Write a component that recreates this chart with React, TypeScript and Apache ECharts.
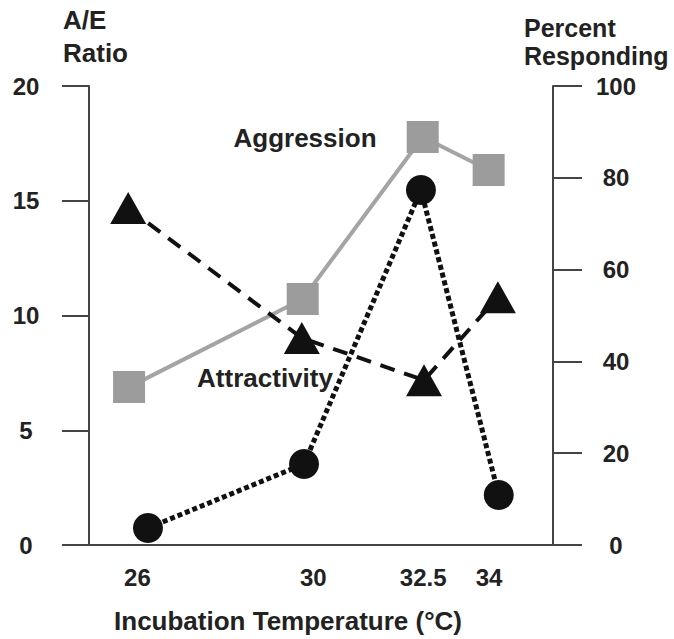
import React, { useEffect, useRef } from "react";
import * as echarts from "echarts";

// Temperatures shown on the x axis (°C)
const tempTicks = [26, 30, 32.5, 34];

// Aggression (% responding, right axis) – grey squares, solid line
const aggressionX = [25.81, 29.76, 32.49, 33.99];
const aggressionY = [34.4, 53.6, 88.9, 81.7];

// Attractivity (% responding, right axis) – black triangles, dashed line
const attractivityX = [25.79, 29.74, 32.52, 34.2];
const attractivityY = [73.4, 45.1, 35.9, 54.0];

// A/E ratio (left axis) – black circles, dotted line
const ratioX = [26.24, 29.79, 32.45, 34.22];
const ratioY = [0.74, 3.53, 15.47, 2.18];

const leftTicks = { min: 0, max: 20, interval: 5 };
const rightTicks = { min: 0, max: 100, interval: 20 };

const FONT = "'Liberation Sans', Arial, sans-serif";
const INK = "#222";
const AXIS = "#444";

function pairs(xs: number[], ys: number[]) {
  return xs.map((x, i) => [x, ys[i]]);
}

export default function App() {
  const ref = useRef<HTMLDivElement>(null);
  useEffect(() => {
    document.body.style.margin = "0";
    if (!ref.current) return;
    const chart = echarts.init(ref.current, undefined, { renderer: "svg" });
    const numLabel = {
      fontSize: 24,
      fontWeight: "bold" as const,
      fontFamily: FONT,
      color: INK,
    };
    chart.setOption({
      animation: false,
      backgroundColor: "#fff",
      grid: {
        left: 64,
        right: 97,
        top: 86,
        bottom: 94,
        containLabel: false,
        outerBoundsMode: "none",
      },
      xAxis: {
        type: "value",
        min: 24.33,
        max: 36,
        axisLine: { onZero: false, lineStyle: { color: AXIS, width: 2 } },
        axisTick: { show: false },
        splitLine: { show: false },
        axisLabel: {
          ...numLabel,
          margin: 20,
          customValues: tempTicks,
          formatter: (v: number) => String(v),
        },
      },
      yAxis: [
        {
          type: "value",
          position: "left",
          offset: -25,
          ...leftTicks,
          axisLine: { show: true, lineStyle: { color: AXIS, width: 2 } },
          axisTick: { show: true, length: 27, lineStyle: { color: AXIS, width: 2 } },
          splitLine: { show: false },
          axisLabel: { ...numLabel, align: "center", margin: 63 },
        },
        {
          type: "value",
          position: "right",
          offset: -24,
          ...rightTicks,
          axisLine: { show: true, lineStyle: { color: AXIS, width: 2 } },
          axisTick: { show: true, length: 29, lineStyle: { color: AXIS, width: 2 } },
          splitLine: { show: false },
          axisLabel: { ...numLabel, align: "center", margin: 63 },
        },
      ],
      series: [
        {
          name: "Aggression",
          type: "line",
          yAxisIndex: 1,
          data: pairs(aggressionX, aggressionY),
          symbol: "rect",
          symbolSize: 32,
          itemStyle: { color: "#9c9c9c" },
          lineStyle: { color: "#a4a4a4", width: 4 },
          z: 2,
        },
        {
          name: "Attractivity",
          type: "line",
          yAxisIndex: 1,
          data: pairs(attractivityX, attractivityY),
          symbol: "triangle",
          symbolSize: [36, 32],
          itemStyle: { color: "#111" },
          lineStyle: { color: "#111", width: 4, type: [15, 10] },
          z: 3,
        },
        {
          name: "A/E Ratio",
          type: "line",
          yAxisIndex: 0,
          data: pairs(ratioX, ratioY),
          symbol: "circle",
          symbolSize: 30,
          itemStyle: { color: "#111" },
          lineStyle: { color: "#111", width: 5, type: [5, 3] },
          z: 4,
        },
      ],
      graphic: [
        {
          type: "text",
          x: 63,
          y: 3,
          style: {
            text: "A/E\nRatio",
            font: `bold 26px ${FONT}`,
            fill: INK,
            lineHeight: 33,
            textAlign: "left",
            textVerticalAlign: "top",
          },
        },
        {
          type: "text",
          x: 524,
          y: 14,
          style: {
            text: "Percent\nResponding",
            font: `bold 25px ${FONT}`,
            fill: INK,
            lineHeight: 28,
            textAlign: "left",
            textVerticalAlign: "top",
          },
        },
        {
          type: "text",
          x: 305,
          y: 138,
          z: 10,
          style: {
            text: "Aggression",
            font: `bold 26px ${FONT}`,
            fill: INK,
            textAlign: "center",
            textVerticalAlign: "middle",
          },
        },
        {
          type: "text",
          x: 265,
          y: 378,
          z: 10,
          style: {
            text: "Attractivity",
            font: `bold 26px ${FONT}`,
            fill: INK,
            textAlign: "center",
            textVerticalAlign: "middle",
          },
        },
        {
          type: "text",
          x: 288,
          y: 621,
          style: {
            text: "Incubation Temperature (°C)",
            font: `bold 26px ${FONT}`,
            fill: INK,
            textAlign: "center",
            textVerticalAlign: "middle",
          },
        },
      ],
    });
    return () => chart.dispose();
  }, []);
  return <div ref={ref} style={{ width: 674, height: 639 }} />;
}
